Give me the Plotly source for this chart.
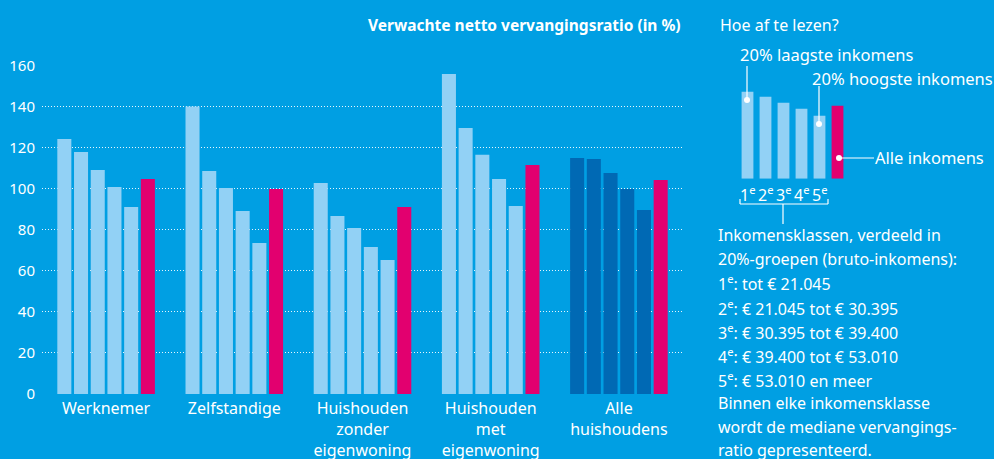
import plotly.graph_objects as go

W, H = 994, 459

categories = ["Werknemer", "Zelfstandige", "Huishouden<br>zonder<br>eigenwoning",
              "Huishouden<br>met<br>eigenwoning", "Alle<br>huishoudens"]
series_names = ["1e", "2e", "3e", "4e", "5e", "Alle inkomens"]
q1 = [124.1, 139.9, 102.7, 155.8, 114.9]
q2 = [117.8, 108.6, 86.7, 129.5, 114.4]
q3 = [109.0, 100.3, 80.8, 116.4, 107.6]
q4 = [100.8, 89.1, 71.6, 104.7, 99.8]
q5 = [91.0, 73.5, 65.2, 91.5, 89.6]
alle = [104.7, 99.8, 91.0, 111.5, 104.2]
y_ticks = [0, 20, 40, 60, 80, 100, 120, 140, 160]

inset_labels = ["1<sup>e</sup>", "2<sup>e</sup>", "3<sup>e</sup>", "4<sup>e</sup>", "5<sup>e</sup>", ""]
inset_values = [87, 82, 76, 70, 63, 73]

BG = "#009FE3"
LIGHT = "#92D1F5"
DARK = "#0069B4"
MAG = "#E2006F"
FONT = "Noto Sans"

fig = go.Figure()
series = [q1, q2, q3, q4, q5]
for name, vals in zip(series_names[:5], series):
    fig.add_trace(go.Bar(x=categories, y=vals, name=name,
                         marker=dict(color=[LIGHT] * 4 + [DARK], line=dict(width=0))))
fig.add_trace(go.Bar(x=categories, y=alle, name=series_names[5],
                     marker=dict(color=MAG, line=dict(width=0))))

fig.add_trace(go.Bar(x=list(range(6)), y=inset_values, xaxis="x2", yaxis="y2",
                     marker=dict(color=[LIGHT] * 5 + [MAG], line=dict(width=0)),
                     showlegend=False))


def px(x):
    return x / W


def py(y):
    return 1 - y / H


fig.update_layout(
    width=W, height=H,
    margin=dict(l=0, r=0, t=0, b=0),
    paper_bgcolor=BG, plot_bgcolor=BG,
    barmode="group", bargap=0.218, bargroupgap=0.16,
    showlegend=False,
    font=dict(family=FONT, color="white", size=15),
    xaxis=dict(domain=[px(42), px(683)], showgrid=False, zeroline=False,
               showline=False, ticks="", automargin=False,
               tickfont=dict(size=16, color="white"), ticklabelstandoff=3),
    yaxis=dict(domain=[py(394), py(65.3)], range=[0, 160], tickvals=y_ticks,
               showgrid=True, gridcolor="rgba(255,255,255,0.9)", griddash="1px,2px",
               gridwidth=1, zeroline=False, showline=False, ticks="",
               automargin=False, tickfont=dict(size=15, color="white"),
               ticklabelstandoff=6),
    xaxis2=dict(domain=[px(738.5), px(846.5)], range=[-0.5, 5.5], showgrid=False,
                zeroline=False, showticklabels=False, ticks="", anchor="y2"),
    yaxis2=dict(domain=[py(178.7), py(88.7)], range=[0, 90], showgrid=False,
                zeroline=False, showticklabels=False, ticks="", anchor="x2"),
)

ann = []


def text(x, y, t, size=16, anchor="left", bold=False):
    ann.append(dict(x=px(x), y=py(y), xref="paper", yref="paper", text=("<b>%s</b>" % t) if bold else t,
                    showarrow=False, xanchor=anchor, yanchor="middle",
                    font=dict(size=size, color="white", family=FONT)))


text(683, 25, "Verwachte netto vervangingsratio (in %)", size=15.5, anchor="right", bold=True)
text(718, 25, "Hoe af te lezen?")
text(738, 54, "20% laagste inkomens", size=16.5)
text(810, 79, "20% hoogste inkomens", size=16.5)
text(873, 157, "Alle inkomens", size=16.5)

# inset class labels
for i, lab in enumerate(inset_labels[:5]):
    ann.append(dict(x=i, y=0, xref="x2", yref="y2", text=lab, showarrow=False,
                    xanchor="center", yanchor="top", yshift=-1,
                    font=dict(size=16, color="white", family=FONT)))

lines = ["Inkomensklassen, verdeeld in",
         "20%-groepen (bruto-inkomens):",
         "1<sup>e</sup>: tot € 21.045",
         "2<sup>e</sup>: € 21.045 tot € 30.395",
         "3<sup>e</sup>: € 30.395 tot € 39.400",
         "4<sup>e</sup>: € 39.400 tot € 53.010",
         "5<sup>e</sup>: € 53.010 en meer",
         "Binnen elke inkomensklasse",
         "wordt de mediane vervangings-",
         "ratio gepresenteerd."]
ys = [235, 259, 283, 308, 332, 356, 380, 403, 427, 450]
for t, y in zip(lines, ys):
    text(716, y, t)

fig.update_layout(annotations=ann)

shapes = []
def line(x0, y0, x1, y1, w=1.2):
    shapes.append(dict(type="line", xref="paper", yref="paper", x0=px(x0), y0=py(y0),
                       x1=px(x1), y1=py(y1), line=dict(color="white", width=w)))


def dot(x, y, r=3):
    shapes.append(dict(type="circle", xref="paper", yref="paper", x0=px(x - r), x1=px(x + r),
                       y0=py(y - r), y1=py(y + r), fillcolor="white", line=dict(width=0)))


line(747, 66, 747, 100)
dot(747, 100)
line(819, 86, 819, 124)
dot(819, 124)
line(839, 158, 874, 158)
dot(839, 158)
# bracket
line(740, 204, 828, 204)
line(740, 199, 740, 204)
line(828, 199, 828, 204)
line(783, 204, 783, 224)

fig.update_layout(shapes=shapes)

fig.write_html("out.html", config={"displayModeBar": False})

# remove the default page margin so the figure sits at the window's top-left corner
with open("out.html", encoding="utf-8") as f:
    html = f.read()
html = html.replace("<head>", "<head><style>html,body{margin:0;padding:0;overflow:hidden;}</style>", 1)
with open("out.html", "w", encoding="utf-8") as f:
    f.write(html)
